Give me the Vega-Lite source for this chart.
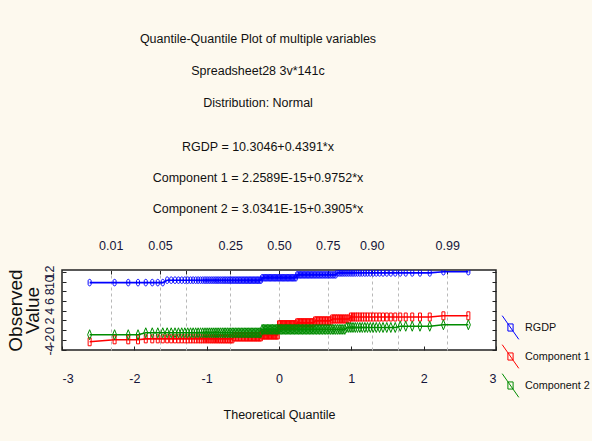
{
  "$schema": "https://vega.github.io/schema/vega-lite/v6.json",
  "width": 434,
  "height": 80,
  "autosize": {"type": "none"},
  "padding": {"left": 62, "top": 270, "right": 96, "bottom": 91},
  "background": "#fdf9ee",
  "config": {
    "font": "Liberation Sans, Arial, sans-serif",
    "view": {"fill": "white", "stroke": "#222", "strokeWidth": 1.5},
    "axis": {"labelColor": "#15153a", "titleColor": "#111", "tickColor": "#222", "domain": false}
  },
  "title": {
    "text": ["Quantile-Quantile Plot of multiple variables", "Spreadsheet28 3v*141c", "Distribution: Normal"],
    "subtitle": ["RGDP = 10.3046+0.4391*x", "Component 1 = 2.2589E-15+0.9752*x", "Component 2 = 3.0341E-15+0.3905*x"],
    "anchor": "middle",
    "dx": -21,
    "offset": 24,
    "fontSize": 12.5,
    "fontWeight": "normal",
    "lineHeight": 32,
    "color": "#111",
    "subtitleFontSize": 12.5,
    "subtitleLineHeight": 31,
    "subtitlePadding": 31,
    "subtitleColor": "#111",
    "subtitleFont": "Liberation Sans, Arial, sans-serif"
  },
  "data": {
    "values": [
      {"x": -2.618, "RGDP": 9.8, "Component 1": -2.4, "Component 2": -0.95},
      {"x": -2.273, "RGDP": 9.8, "Component 1": -2.0, "Component 2": -0.95},
      {"x": -2.084, "RGDP": 9.8, "Component 1": -2.0, "Component 2": -0.95},
      {"x": -1.949, "RGDP": 9.8, "Component 1": -2.0, "Component 2": -0.95},
      {"x": -1.842, "RGDP": 9.8, "Component 1": -1.8, "Component 2": -0.55},
      {"x": -1.752, "RGDP": 9.8, "Component 1": -1.8, "Component 2": -0.55},
      {"x": -1.676, "RGDP": 9.8, "Component 1": -1.8, "Component 2": -0.55},
      {"x": -1.607, "RGDP": 9.8, "Component 1": -1.8, "Component 2": -0.55},
      {"x": -1.546, "RGDP": 10.3, "Component 1": -1.8, "Component 2": -0.55},
      {"x": -1.490, "RGDP": 10.3, "Component 1": -1.8, "Component 2": -0.55},
      {"x": -1.438, "RGDP": 10.3, "Component 1": -1.8, "Component 2": -0.55},
      {"x": -1.390, "RGDP": 10.3, "Component 1": -1.8, "Component 2": -0.55},
      {"x": -1.345, "RGDP": 10.3, "Component 1": -1.8, "Component 2": -0.55},
      {"x": -1.302, "RGDP": 10.3, "Component 1": -1.8, "Component 2": -0.55},
      {"x": -1.262, "RGDP": 10.3, "Component 1": -1.8, "Component 2": -0.55},
      {"x": -1.223, "RGDP": 10.3, "Component 1": -1.8, "Component 2": -0.55},
      {"x": -1.187, "RGDP": 10.3, "Component 1": -1.8, "Component 2": -0.55},
      {"x": -1.152, "RGDP": 10.3, "Component 1": -1.8, "Component 2": -0.55},
      {"x": -1.118, "RGDP": 10.3, "Component 1": -1.8, "Component 2": -0.55},
      {"x": -1.085, "RGDP": 10.3, "Component 1": -1.8, "Component 2": -0.55},
      {"x": -1.054, "RGDP": 10.3, "Component 1": -1.8, "Component 2": -0.55},
      {"x": -1.023, "RGDP": 10.3, "Component 1": -1.8, "Component 2": -0.55},
      {"x": -0.994, "RGDP": 10.3, "Component 1": -1.8, "Component 2": -0.55},
      {"x": -0.965, "RGDP": 10.3, "Component 1": -1.8, "Component 2": -0.55},
      {"x": -0.937, "RGDP": 10.3, "Component 1": -1.8, "Component 2": -0.55},
      {"x": -0.910, "RGDP": 10.3, "Component 1": -1.8, "Component 2": -0.55},
      {"x": -0.883, "RGDP": 10.3, "Component 1": -1.8, "Component 2": -0.55},
      {"x": -0.857, "RGDP": 10.3, "Component 1": -1.8, "Component 2": -0.55},
      {"x": -0.832, "RGDP": 10.3, "Component 1": -1.8, "Component 2": -0.55},
      {"x": -0.807, "RGDP": 10.3, "Component 1": -1.8, "Component 2": -0.55},
      {"x": -0.783, "RGDP": 10.3, "Component 1": -1.8, "Component 2": -0.55},
      {"x": -0.759, "RGDP": 10.3, "Component 1": -1.8, "Component 2": -0.55},
      {"x": -0.736, "RGDP": 10.3, "Component 1": -1.8, "Component 2": -0.55},
      {"x": -0.713, "RGDP": 10.3, "Component 1": -1.8, "Component 2": -0.55},
      {"x": -0.690, "RGDP": 10.3, "Component 1": -1.8, "Component 2": -0.55},
      {"x": -0.667, "RGDP": 10.3, "Component 1": -1.8, "Component 2": -0.55},
      {"x": -0.645, "RGDP": 10.3, "Component 1": -1.8, "Component 2": -0.55},
      {"x": -0.624, "RGDP": 10.3, "Component 1": -1.4, "Component 2": -0.55},
      {"x": -0.602, "RGDP": 10.3, "Component 1": -1.4, "Component 2": -0.55},
      {"x": -0.581, "RGDP": 10.3, "Component 1": -1.4, "Component 2": -0.55},
      {"x": -0.560, "RGDP": 10.3, "Component 1": -1.4, "Component 2": -0.55},
      {"x": -0.540, "RGDP": 10.3, "Component 1": -1.4, "Component 2": -0.55},
      {"x": -0.519, "RGDP": 10.3, "Component 1": -1.4, "Component 2": -0.55},
      {"x": -0.499, "RGDP": 10.3, "Component 1": -1.4, "Component 2": -0.55},
      {"x": -0.479, "RGDP": 10.3, "Component 1": -1.4, "Component 2": -0.55},
      {"x": -0.459, "RGDP": 10.3, "Component 1": -1.4, "Component 2": -0.55},
      {"x": -0.440, "RGDP": 10.3, "Component 1": -1.4, "Component 2": -0.55},
      {"x": -0.420, "RGDP": 10.3, "Component 1": -1.4, "Component 2": -0.55},
      {"x": -0.401, "RGDP": 10.3, "Component 1": -1.4, "Component 2": -0.55},
      {"x": -0.382, "RGDP": 10.3, "Component 1": -1.4, "Component 2": -0.55},
      {"x": -0.363, "RGDP": 10.3, "Component 1": -1.4, "Component 2": -0.55},
      {"x": -0.344, "RGDP": 10.3, "Component 1": -1.4, "Component 2": -0.55},
      {"x": -0.325, "RGDP": 10.3, "Component 1": -1.4, "Component 2": -0.55},
      {"x": -0.306, "RGDP": 10.3, "Component 1": -1.4, "Component 2": -0.55},
      {"x": -0.288, "RGDP": 10.3, "Component 1": -1.4, "Component 2": -0.55},
      {"x": -0.269, "RGDP": 10.3, "Component 1": -1.4, "Component 2": -0.55},
      {"x": -0.251, "RGDP": 10.3, "Component 1": -1.4, "Component 2": -0.55},
      {"x": -0.233, "RGDP": 10.8, "Component 1": -1.0, "Component 2": 0.15},
      {"x": -0.214, "RGDP": 10.8, "Component 1": -1.0, "Component 2": 0.15},
      {"x": -0.196, "RGDP": 10.8, "Component 1": -1.0, "Component 2": 0.15},
      {"x": -0.178, "RGDP": 10.8, "Component 1": -1.0, "Component 2": 0.15},
      {"x": -0.160, "RGDP": 10.8, "Component 1": -1.0, "Component 2": 0.15},
      {"x": -0.142, "RGDP": 10.8, "Component 1": -1.0, "Component 2": 0.15},
      {"x": -0.124, "RGDP": 10.8, "Component 1": -1.0, "Component 2": 0.15},
      {"x": -0.107, "RGDP": 10.8, "Component 1": -1.0, "Component 2": 0.15},
      {"x": -0.089, "RGDP": 10.8, "Component 1": -1.0, "Component 2": 0.15},
      {"x": -0.071, "RGDP": 10.8, "Component 1": -1.0, "Component 2": 0.15},
      {"x": -0.053, "RGDP": 10.8, "Component 1": -1.0, "Component 2": 0.15},
      {"x": -0.036, "RGDP": 10.8, "Component 1": -1.0, "Component 2": 0.15},
      {"x": -0.018, "RGDP": 10.8, "Component 1": -1.0, "Component 2": 0.15},
      {"x": 0.000, "RGDP": 10.8, "Component 1": 1.1, "Component 2": 0.15},
      {"x": 0.018, "RGDP": 10.8, "Component 1": 1.1, "Component 2": 0.15},
      {"x": 0.036, "RGDP": 10.8, "Component 1": 1.1, "Component 2": 0.15},
      {"x": 0.053, "RGDP": 10.8, "Component 1": 1.1, "Component 2": 0.15},
      {"x": 0.071, "RGDP": 10.8, "Component 1": 1.1, "Component 2": 0.15},
      {"x": 0.089, "RGDP": 10.8, "Component 1": 1.1, "Component 2": 0.15},
      {"x": 0.107, "RGDP": 10.8, "Component 1": 1.1, "Component 2": 0.15},
      {"x": 0.124, "RGDP": 10.8, "Component 1": 1.1, "Component 2": 0.15},
      {"x": 0.142, "RGDP": 10.8, "Component 1": 1.1, "Component 2": 0.15},
      {"x": 0.160, "RGDP": 10.8, "Component 1": 1.1, "Component 2": 0.15},
      {"x": 0.178, "RGDP": 10.8, "Component 1": 1.1, "Component 2": 0.15},
      {"x": 0.196, "RGDP": 10.8, "Component 1": 1.1, "Component 2": 0.15},
      {"x": 0.214, "RGDP": 10.8, "Component 1": 1.1, "Component 2": 0.15},
      {"x": 0.233, "RGDP": 10.8, "Component 1": 1.1, "Component 2": 0.15},
      {"x": 0.251, "RGDP": 11.4, "Component 1": 1.5, "Component 2": 0.15},
      {"x": 0.269, "RGDP": 11.4, "Component 1": 1.5, "Component 2": 0.15},
      {"x": 0.288, "RGDP": 11.4, "Component 1": 1.5, "Component 2": 0.15},
      {"x": 0.306, "RGDP": 11.4, "Component 1": 1.5, "Component 2": 0.15},
      {"x": 0.325, "RGDP": 11.4, "Component 1": 1.5, "Component 2": 0.15},
      {"x": 0.344, "RGDP": 11.4, "Component 1": 1.5, "Component 2": 0.15},
      {"x": 0.363, "RGDP": 11.4, "Component 1": 1.5, "Component 2": 0.15},
      {"x": 0.382, "RGDP": 11.4, "Component 1": 1.5, "Component 2": 0.15},
      {"x": 0.401, "RGDP": 11.4, "Component 1": 1.5, "Component 2": 0.15},
      {"x": 0.420, "RGDP": 11.4, "Component 1": 1.5, "Component 2": 0.15},
      {"x": 0.440, "RGDP": 11.4, "Component 1": 1.5, "Component 2": 0.15},
      {"x": 0.459, "RGDP": 11.4, "Component 1": 1.5, "Component 2": 0.15},
      {"x": 0.479, "RGDP": 11.4, "Component 1": 1.5, "Component 2": 0.15},
      {"x": 0.499, "RGDP": 11.4, "Component 1": 1.9, "Component 2": 0.15},
      {"x": 0.519, "RGDP": 11.4, "Component 1": 1.9, "Component 2": 0.15},
      {"x": 0.540, "RGDP": 11.4, "Component 1": 1.9, "Component 2": 0.15},
      {"x": 0.560, "RGDP": 11.4, "Component 1": 1.9, "Component 2": 0.15},
      {"x": 0.581, "RGDP": 11.4, "Component 1": 1.9, "Component 2": 0.15},
      {"x": 0.602, "RGDP": 11.4, "Component 1": 1.9, "Component 2": 0.15},
      {"x": 0.624, "RGDP": 11.4, "Component 1": 1.9, "Component 2": 0.15},
      {"x": 0.645, "RGDP": 11.4, "Component 1": 1.9, "Component 2": 0.15},
      {"x": 0.667, "RGDP": 11.4, "Component 1": 1.9, "Component 2": 0.15},
      {"x": 0.690, "RGDP": 11.4, "Component 1": 1.9, "Component 2": 0.15},
      {"x": 0.713, "RGDP": 11.4, "Component 1": 1.9, "Component 2": 0.15},
      {"x": 0.736, "RGDP": 11.4, "Component 1": 2.3, "Component 2": 0.15},
      {"x": 0.759, "RGDP": 11.4, "Component 1": 2.3, "Component 2": 0.15},
      {"x": 0.783, "RGDP": 11.4, "Component 1": 2.3, "Component 2": 0.15},
      {"x": 0.807, "RGDP": 11.8, "Component 1": 2.3, "Component 2": 0.15},
      {"x": 0.832, "RGDP": 11.8, "Component 1": 2.3, "Component 2": 0.15},
      {"x": 0.857, "RGDP": 11.8, "Component 1": 2.3, "Component 2": 0.15},
      {"x": 0.883, "RGDP": 11.8, "Component 1": 2.3, "Component 2": 0.15},
      {"x": 0.910, "RGDP": 11.8, "Component 1": 2.3, "Component 2": 0.15},
      {"x": 0.937, "RGDP": 11.8, "Component 1": 2.3, "Component 2": 0.55},
      {"x": 0.965, "RGDP": 11.8, "Component 1": 2.3, "Component 2": 0.55},
      {"x": 0.994, "RGDP": 11.8, "Component 1": 2.7, "Component 2": 0.55},
      {"x": 1.023, "RGDP": 11.8, "Component 1": 2.7, "Component 2": 0.55},
      {"x": 1.054, "RGDP": 11.8, "Component 1": 2.7, "Component 2": 0.55},
      {"x": 1.085, "RGDP": 11.8, "Component 1": 2.7, "Component 2": 0.55},
      {"x": 1.118, "RGDP": 11.8, "Component 1": 2.7, "Component 2": 0.55},
      {"x": 1.152, "RGDP": 11.8, "Component 1": 2.7, "Component 2": 0.55},
      {"x": 1.187, "RGDP": 11.8, "Component 1": 2.7, "Component 2": 0.55},
      {"x": 1.223, "RGDP": 11.8, "Component 1": 2.7, "Component 2": 0.55},
      {"x": 1.262, "RGDP": 11.8, "Component 1": 2.7, "Component 2": 0.55},
      {"x": 1.302, "RGDP": 11.8, "Component 1": 2.7, "Component 2": 0.55},
      {"x": 1.345, "RGDP": 11.8, "Component 1": 2.7, "Component 2": 0.55},
      {"x": 1.390, "RGDP": 11.8, "Component 1": 2.7, "Component 2": 0.55},
      {"x": 1.438, "RGDP": 11.8, "Component 1": 2.7, "Component 2": 0.55},
      {"x": 1.490, "RGDP": 11.8, "Component 1": 2.7, "Component 2": 0.55},
      {"x": 1.546, "RGDP": 11.8, "Component 1": 2.7, "Component 2": 0.55},
      {"x": 1.607, "RGDP": 11.8, "Component 1": 2.7, "Component 2": 0.55},
      {"x": 1.676, "RGDP": 11.8, "Component 1": 2.7, "Component 2": 0.8},
      {"x": 1.752, "RGDP": 11.8, "Component 1": 2.7, "Component 2": 0.8},
      {"x": 1.842, "RGDP": 11.8, "Component 1": 2.7, "Component 2": 0.8},
      {"x": 1.949, "RGDP": 11.8, "Component 1": 2.7, "Component 2": 0.8},
      {"x": 2.084, "RGDP": 11.8, "Component 1": 2.7, "Component 2": 0.8},
      {"x": 2.273, "RGDP": 12.05, "Component 1": 2.95, "Component 2": 1.1},
      {"x": 2.618, "RGDP": 12.05, "Component 1": 2.95, "Component 2": 1.1}
    ]
  },
  "transform": [
    {"fold": ["RGDP", "Component 1", "Component 2"], "as": ["series", "value"]}
  ],
  "layer": [
    {
      "mark": {"type": "line", "strokeWidth": 1.6, "clip": true},
      "encoding": {
        "x": {
          "field": "x", "type": "quantitative",
          "scale": {"domain": [-3, 3], "nice": false, "zero": false},
          "axis": {
            "orient": "bottom", "values": [-3, -2, -1, 0, 1, 2, 3], "grid": false,
            "labelExpr": "toString(datum.value)",
            "tickSize": -4, "labelPadding": 26, "labelFontSize": 12.5,
            "title": "Theoretical Quantile", "titleFontSize": 12.5, "titleFontWeight": "normal", "titlePadding": 24
          }
        },
        "y": {
          "field": "value", "type": "quantitative",
          "scale": {"domain": [-4.1, 12.4], "nice": false, "zero": false},
          "axis": {
            "orient": "left", "values": [-4, -2, 0, 2, 4, 6, 8, 10, 12], "grid": false,
            "labelExpr": "toString(datum.value)",
            "tickSize": -4, "labelAngle": -90, "labelFontSize": 12.5, "labelOverlap": false, "labelPadding": 10,
            "title": ["Observed", "Value"],
            "titleFontSize": 19, "titleFontWeight": "normal", "titleLineHeight": 17, "titlePadding": 1
          }
        },
        "color": {
          "field": "series", "type": "nominal",
          "scale": {"domain": ["RGDP", "Component 1", "Component 2"], "range": ["#0000ff", "#ff0000", "#008c00"]},
          "legend": {
            "title": null, "orient": "none", "legendX": 436, "legendY": 45,
            "symbolType": "M-0.7,-1L0.7,1M-0.22,-0.3L0.22,-0.3L0.22,0.3L-0.22,0.3Z",
            "symbolSize": 560, "symbolStrokeWidth": 1, "symbolFillColor": "transparent",
            "labelFontSize": 10.8, "labelColor": "#111", "labelOffset": 2, "labelLimit": 100, "rowPadding": 0, "padding": 0
          }
        }
      }
    },
    {
      "transform": [{"filter": {"field": "series", "equal": "RGDP"}}],
      "mark": {"type": "point", "filled": false, "strokeWidth": 1, "size": 100, "opacity": 1, "clip": true,
               "shape": "M-0.3,-0.35A0.3,0.3,0,0,1,0.3,-0.35L0.3,0.35A0.3,0.3,0,0,1,-0.3,0.35Z"},
      "encoding": {
        "x": {
          "field": "x", "type": "quantitative",
          "axis": {
            "orient": "top", "values": [-2.326, -1.645, -1.282, -0.674, 0, 0.674, 1.282, 1.645, 2.326],
            "labelExpr": "datum.value < -2 ? '0.01' : datum.value < -1.5 ? '0.05' : datum.value < -1 ? '' : datum.value < -0.5 ? '0.25' : datum.value < 0.5 ? '0.50' : datum.value < 1 ? '0.75' : datum.value < 1.5 ? '0.90' : datum.value < 2 ? '' : '0.99'",
            "grid": true, "gridColor": "#b8b8b8", "gridDash": [3, 3], "gridWidth": 1,
            "tickSize": -4, "labelPadding": 22, "labelFontSize": 12.5, "labelOverlap": false, "title": null
          }
        },
        "y": {
          "field": "value", "type": "quantitative",
          "axis": {
            "orient": "right", "values": [-4, -2, 0, 2, 4, 6, 8, 10, 12], "grid": false,
            "tickSize": -4, "labels": false, "title": null
          }
        },
        "color": {"field": "series", "type": "nominal"}
      }
    },
    {
      "transform": [{"filter": {"field": "series", "equal": "Component 1"}}],
      "mark": {"type": "point", "filled": false, "strokeWidth": 1, "size": 100, "opacity": 1, "clip": true,
               "shape": "M-0.3,-0.8L0.3,-0.8L0.3,0.8L-0.3,0.8Z"},
      "encoding": {
        "x": {"field": "x", "type": "quantitative", "axis": null},
        "y": {"field": "value", "type": "quantitative", "axis": null},
        "color": {"field": "series", "type": "nominal"}
      }
    },
    {
      "transform": [{"filter": {"field": "series", "equal": "Component 2"}}],
      "mark": {"type": "point", "filled": false, "strokeWidth": 1, "size": 100, "opacity": 1, "clip": true,
               "shape": "M0,-1L0.4,0L0,1L-0.4,0Z"},
      "encoding": {
        "x": {"field": "x", "type": "quantitative", "axis": null},
        "y": {"field": "value", "type": "quantitative", "axis": null},
        "color": {"field": "series", "type": "nominal"}
      }
    }
  ],
  "resolve": {"axis": {"x": "independent", "y": "independent"}}
}
